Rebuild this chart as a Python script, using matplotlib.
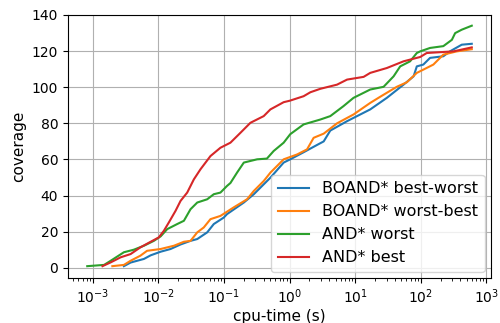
import matplotlib
matplotlib.use('Agg')
import matplotlib.pyplot as plt

# cumulative coverage vs cpu-time
bw_time = [2.97e-3, 3.76e-3, 6e-3, 7.6e-3, 0.0108, 0.0153, 0.0217, 0.0308, 0.039, 0.0553,
           0.0697, 0.099, 0.111, 0.2, 0.284, 0.51, 0.81, 1.02, 1.63, 2.6, 3.3, 4.16, 7.5,
           16.9, 30.3, 54.4, 77.5, 86.7, 109, 138, 220, 277, 420, 597]
bw_cov = [1, 3, 5, 7, 9, 10.5, 13, 15, 16, 19.7, 24.3, 27.9, 29.8, 36.2, 40.8, 50, 58.3,
          60.1, 64, 68, 70, 76, 81.2, 87.7, 94.1, 101.4, 106, 111.5, 112.5, 116.2, 117.1,
          119.8, 123.5, 124]

wb_time = [1.98e-3, 2.97e-3, 3.76e-3, 5.3e-3, 6.7e-3, 0.0108, 0.0172, 0.0244, 0.0308, 0.039,
           0.049, 0.062, 0.088, 0.14, 0.224, 0.284, 0.402, 0.51, 0.81, 1.3, 1.84, 2.32, 3.3,
           5.27, 9.4, 16.9, 24, 42.9, 61, 86.7, 109, 155, 220, 353, 597]
wb_cov = [1, 1.7, 4, 6.8, 9.5, 10.5, 12.3, 14.5, 15, 19.7, 22.4, 27, 28.8, 33.5, 38, 42.6,
          48.1, 52.8, 60.1, 62.8, 65.6, 72, 74.3, 80, 84.9, 91.3, 94.7, 100.2, 102.7, 107.9,
          109.7, 112.5, 118, 119.8, 121]

worst_time = [8.2e-4, 1.48e-3, 1.87e-3, 2.97e-3, 4.2e-3, 6e-3, 8.5e-3, 0.0108, 0.0136, 0.0193,
              0.0244, 0.0308, 0.039, 0.0553, 0.0697, 0.088, 0.111, 0.125, 0.158, 0.2, 0.319,
              0.45, 0.57, 0.81, 1.02, 1.63, 2.93, 4.16, 6.6, 9.4, 16.9, 27, 38.4, 48.4, 68.5,
              86.7, 97.6, 138, 220, 297, 333, 420, 597]
worst_cov = [1, 1.7, 4, 8.7, 10.1, 12.3, 15, 17.5, 21.5, 24.3, 26.1, 32.5, 36.2, 38, 40.8,
             41.7, 45.4, 47, 52.8, 58.3, 60.1, 60.5, 64.7, 69.3, 74, 79.4, 82.1, 84, 89.5,
             94.1, 98.7, 100.2, 106, 111.5, 114.3, 118.9, 119.8, 121.7, 122.7, 126.2, 129.9,
             131.8, 134]

best_time = [1.4e-3, 1.87e-3, 2.65e-3, 3.76e-3, 5.3e-3, 7.6e-3, 0.0101, 0.0121, 0.0144, 0.0182,
             0.0217, 0.0274, 0.0346, 0.0437, 0.062, 0.088, 0.125, 0.178, 0.252, 0.402, 0.508,
             0.81, 1.0, 1.63, 2.07, 2.93, 5.27, 7.5, 13.4, 16.9, 30.3, 54.4, 97.6, 123, 313, 597]
best_cov = [1, 3.1, 5.9, 7.7, 11.4, 14.5, 16.9, 20.6, 25.2, 31.6, 37.1, 41.7, 49, 54.6, 61.9,
            66.5, 69.3, 74.8, 80.3, 84, 87.7, 91.7, 92.5, 95, 97.2, 99.1, 101.4, 104.2, 105.7,
            107.9, 110.6, 114.3, 116.7, 118.9, 119.8, 122]

fig = plt.figure(figsize=(5, 3.23), dpi=100)
ax = fig.add_axes([0.136, 0.139, 0.846, 0.815])

ax.plot(bw_time, bw_cov, color='#1f77b4', lw=1.5, label='BOAND* best-worst')
ax.plot(wb_time, wb_cov, color='#ff7f0e', lw=1.5, label='BOAND* worst-best')
ax.plot(worst_time, worst_cov, color='#2ca02c', lw=1.5, label='AND* worst')
ax.plot(best_time, best_cov, color='#d62728', lw=1.5, label='AND* best')

ax.set_xscale('log')
ax.set_ylim(-5.6, 140)
ax.set_xlabel('cpu-time (s)', fontsize=11, labelpad=2)
ax.set_ylabel('coverage', fontsize=11)
ax.tick_params(labelsize=10)
ax.grid(True, which='major', color='#b0b0b0', lw=0.8)
ax.legend(loc='lower right', fontsize=11.5, borderaxespad=0.4)

fig.savefig('out.png', dpi=100)
